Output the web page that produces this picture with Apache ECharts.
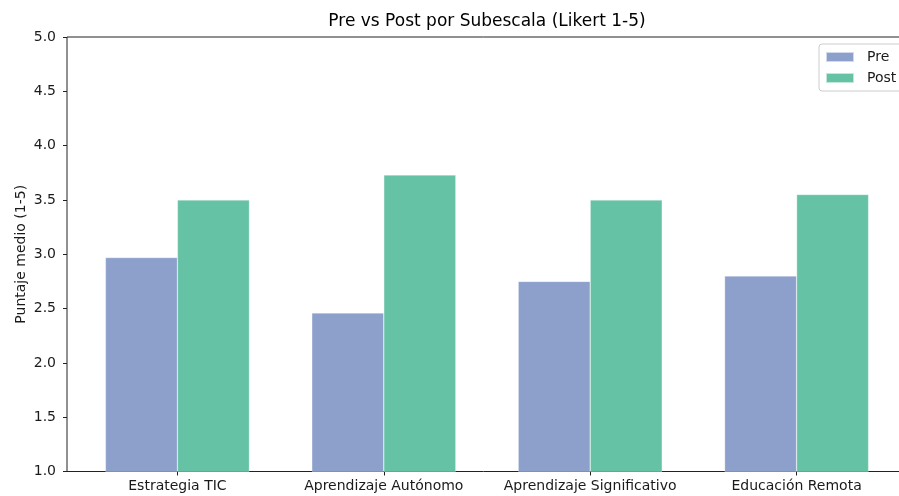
<!DOCTYPE html>
<html>
<head>
<meta charset="utf-8">
<script src="https://cdn.jsdelivr.net/npm/echarts@6/dist/echarts.min.js"></script>
<style>
  html, body { margin: 0; padding: 0; background: #fff; }
  #chart { width: 899px; height: 496px; }
</style>
</head>
<body>
<div id="chart"></div>
<script>
// subescalas y medias (Likert 1-5)
const categories = ['Estrategia TIC', 'Aprendizaje Autónomo', 'Aprendizaje Significativo', 'Educación Remota']
const preValues = [2.97, 2.46, 2.75, 2.80]
const postValues = [3.50, 3.73, 3.50, 3.55]
const yTicks = [1.0, 1.5, 2.0, 2.5, 3.0, 3.5, 4.0, 4.5, 5.0]

const font = 'DejaVu Sans'
const textColor = '#1a1a1a'

const chart = echarts.init(document.getElementById('chart'))

chart.setOption({
  animation: false,
  textStyle: { fontFamily: font },
  title: {
    text: 'Pre vs Post por Subescala (Likert 1-5)',
    left: 482,
    top: 8,
    textAlign: 'center',
    textStyle: { fontFamily: font, fontSize: 17, fontWeight: 'normal', color: '#000' }
  },
  legend: {
    orient: 'vertical',
    left: 819,
    top: 44,
    icon: 'rect',
    itemWidth: 28,
    itemHeight: 10,
    itemGap: 7,
    padding: [6, 6, 6, 6],
    backgroundColor: 'rgba(255,255,255,0.8)',
    borderColor: '#cccccc',
    borderWidth: 1,
    borderRadius: 3,
    textStyle: { fontFamily: font, fontSize: 14, color: textColor, padding: [0, 0, 0, 8] },
    data: ['Pre', 'Post']
  },
  grid: {
    left: 67,
    width: 840,
    top: 37,
    height: 434.5,
    outerBoundsMode: 'none',
    containLabel: false,
    show: true,
    borderColor: '#222',
    borderWidth: 1,
    backgroundColor: 'transparent'
  },
  xAxis: {
    type: 'value',
    min: -0.535,
    max: 3.535,
    splitLine: { show: false },
    axisLine: { show: false, onZero: false },
    axisTick: {
      show: true,
      customValues: categories.map((c, i) => i),
      length: 4,
      lineStyle: { color: '#222' }
    },
    axisLabel: {
      customValues: categories.map((c, i) => i),
      margin: 8,
      fontFamily: font,
      fontSize: 14,
      color: textColor,
      formatter: v => categories[Math.round(v)]
    }
  },
  yAxis: {
    type: 'value',
    min: 1,
    max: 5,
    interval: 0.5,
    name: 'Puntaje medio (1-5)',
    nameLocation: 'middle',
    nameGap: 39,
    nameMoveOverlap: false,
    nameTextStyle: { fontFamily: font, fontSize: 14, color: textColor },
    splitLine: { show: false },
    axisLine: { show: false, onZero: false },
    axisTick: { show: true, length: 4, lineStyle: { color: '#222' } },
    axisLabel: {
      margin: 11,
      fontFamily: font,
      fontSize: 14,
      color: textColor,
      formatter: v => v.toFixed(1),
      customValues: yTicks
    }
  },
  series: [
    {
      name: 'Pre',
      type: 'bar',
      barWidth: 72,
      barGap: '0%',
      itemStyle: { color: '#8da0cb', borderColor: 'rgba(255,255,255,0.6)', borderWidth: 0.5 },
      data: preValues.map((v, i) => [i, v])
    },
    {
      name: 'Post',
      type: 'bar',
      barWidth: 72,
      barGap: '0%',
      itemStyle: { color: '#66c2a5', borderColor: 'rgba(255,255,255,0.6)', borderWidth: 0.5 },
      data: postValues.map((v, i) => [i, v])
    }
  ]
})
</script>
</body>
</html>
